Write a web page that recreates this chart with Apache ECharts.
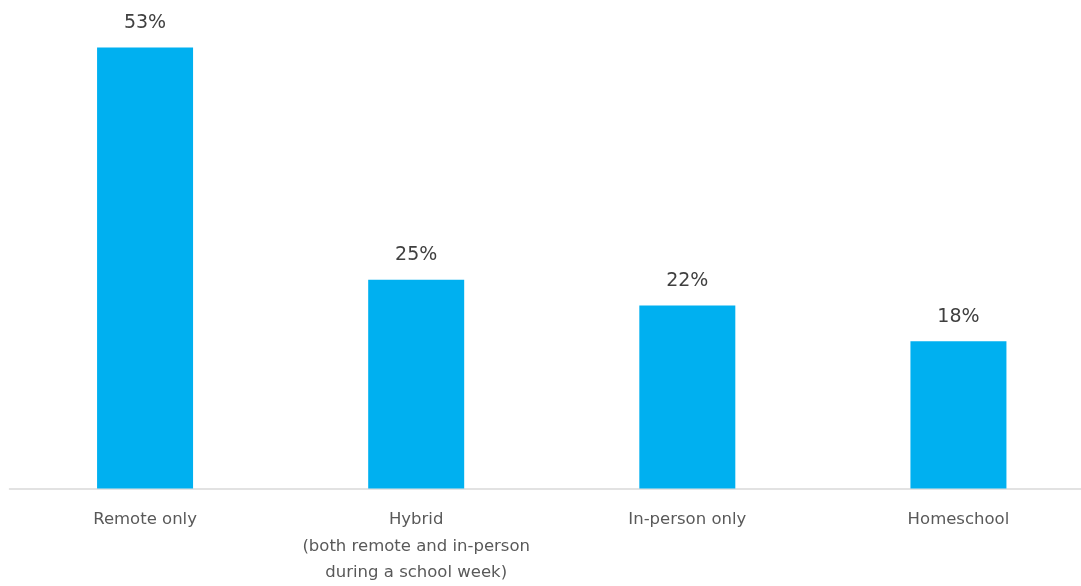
<!DOCTYPE html>
<html>
<head>
<meta charset="utf-8">
<script src="https://cdn.jsdelivr.net/npm/echarts@6/dist/echarts.min.js"></script>
<style>
html,body{margin:0;padding:0;background:#fff;overflow:hidden;width:1081px;height:586px;}
#c{width:1094px;height:586px;}
</style>
</head>
<body>
<div id="c"></div>
<script>
const categories = ["Remote only", "Hybrid\n(both remote and in-person\nduring a school week)", "In-person only", "Homeschool"];
const values = [53, 25.1, 22, 17.7];

const chart = echarts.init(document.getElementById('c'), null, {renderer: 'canvas'});
chart.setOption({
  animation: false,
  backgroundColor: '#ffffff',
  grid: {left: 9.5, right: 0, top: 6, bottom: 92, containLabel: false},
  xAxis: {
    type: 'category',
    data: categories,
    axisLine: {show: true, lineStyle: {color: '#d9d9d9', width: 1.5}},
    axisTick: {show: false},
    axisLabel: {
      color: '#595959', fontSize: 16.5, fontFamily: '"DejaVu Sans", sans-serif',
      lineHeight: 26.5, margin: 18, interval: 0
    }
  },
  yAxis: {
    type: 'value', min: 0, max: 58,
    show: false,
    splitLine: {show: false}
  },
  series: [{
    type: 'bar',
    data: values,
    barWidth: 96,
    itemStyle: {color: '#00b0f0'},
    label: {
      show: true, position: 'top', distance: 15,
      color: '#404040', fontSize: 19, fontFamily: '"DejaVu Sans", sans-serif',
      formatter: p => Math.round(p.value) + '%'
    }
  }]
});
</script>
</body>
</html>
